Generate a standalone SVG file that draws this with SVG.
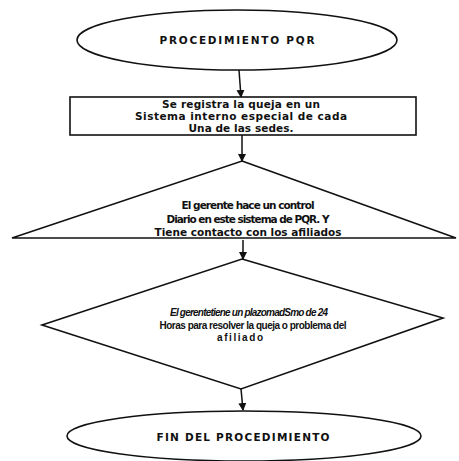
<svg xmlns="http://www.w3.org/2000/svg" width="459" height="461" viewBox="0 0 459 461">
  <style>
    .shape { fill: #ffffff; stroke: #111111; stroke-width: 1.6; }
    .edge { fill: none; stroke: #111111; stroke-width: 1.5; marker-end: url(#arrow); }
    .title { font-family: "DejaVu Sans", "Liberation Sans", sans-serif; font-size: 10.5px; font-weight: bold; fill: #111111; text-anchor: middle; }
    .body { font-family: "DejaVu Sans", "Liberation Sans", sans-serif; font-size: 10.5px; font-weight: bold; fill: #111111; text-anchor: middle; }
    .small { font-family: "Liberation Sans", Arial, sans-serif; font-size: 10px; font-weight: bold; fill: #111111; text-anchor: middle; }
  </style>
  <defs>
    <marker id="arrow" markerWidth="8" markerHeight="8" refX="7" refY="4" orient="auto" markerUnits="userSpaceOnUse">
      <path d="M0,0 L8,4 L0,8 Z" fill="#111111"/>
    </marker>
  </defs>
  <rect x="0" y="0" width="459" height="461" fill="#ffffff"/>

  <!-- connectors between steps -->
  <g id="connectors">
    <line class="edge" x1="239" y1="70" x2="241" y2="97"/>
    <line class="edge" x1="242" y1="135" x2="242" y2="161"/>
    <line class="edge" x1="243" y1="240" x2="243" y2="259"/>
    <line class="edge" x1="241" y1="389" x2="243" y2="410"/>
  </g>

  <g id="start">
    <ellipse class="shape" cx="237" cy="40" rx="160" ry="30"/>
    <text class="title" x="237" y="44" textLength="155" lengthAdjust="spacing">PROCEDIMIENTO PQR</text>
  </g>

  <g id="registro">
    <rect class="shape" x="70" y="97" width="346" height="38"/>
    <text class="body" x="241" y="108" textLength="158" lengthAdjust="spacing">Se registra la queja en un</text>
    <text class="body" x="241" y="120" textLength="212" lengthAdjust="spacing">Sistema interno especial  de cada</text>
    <text class="body" x="241" y="132" textLength="105" lengthAdjust="spacing">Una de las sedes.</text>
  </g>

  <g id="control">
    <polygon class="shape" points="242,161 456,238 12,238"/>
    <text class="body" x="248" y="209" textLength="133" lengthAdjust="spacing">El gerente hace un control</text>
    <text class="body" x="248" y="223" textLength="163" lengthAdjust="spacing">Diario en este sistema de PQR.  Y</text>
    <text class="body" x="248" y="236" textLength="187" lengthAdjust="spacing">Tiene contacto con los afiliados</text>
  </g>

  <g id="plazo">
    <polygon class="shape" points="242,259 443,318 241,389 42,325"/>
    <text class="small" x="249" y="316" font-style="italic" textLength="158" lengthAdjust="spacing">El gerentetiene un plazomadSmo de 24</text>
    <text class="small" x="253" y="329" textLength="187" lengthAdjust="spacing">Horas  para resolver la queja o problema del</text>
    <text class="small" x="240" y="341" textLength="46" lengthAdjust="spacing">afiliado</text>
  </g>

  <g id="fin">
    <ellipse class="shape" cx="244" cy="436" rx="177" ry="25"/>
    <text class="title" x="243" y="441" textLength="173" lengthAdjust="spacing">FIN DEL PROCEDIMIENTO</text>
  </g>
</svg>
